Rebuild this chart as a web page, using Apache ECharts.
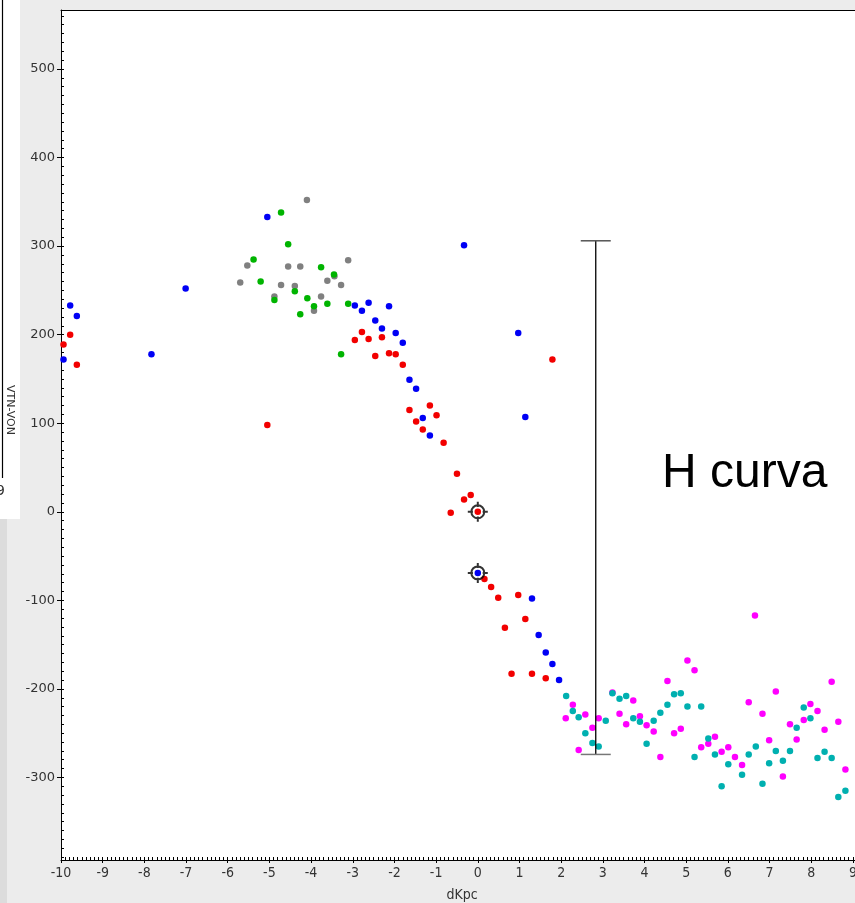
<!DOCTYPE html>
<html><head><meta charset="utf-8">
<script src="https://cdn.jsdelivr.net/npm/echarts@6/dist/echarts.min.js"></script>
<style>html,body{margin:0;padding:0;background:#ececec}#c{width:855px;height:903px}</style>
</head><body><div id="c"></div>
<script>
const xTicks = [-10,-9,-8,-7,-6,-5,-4,-3,-2,-1,0,1,2,3,4,5,6,7,8,9];
const yTicks = [-300,-200,-100,0,100,200,300,400,500];
const red = [[-9.78,200],[-9.94,189],[-9.62,166],[-5.05,98],
 [-2.78,203],[-2.95,194],[-2.62,195],[-2.30,197],[-2.46,176],[-2.13,179],[-1.97,178],[-1.80,166],
 [-1.64,115],[-1.15,120],[-0.99,109],[-1.48,102],[-1.32,93],[-0.82,78],[-0.50,43],[-0.17,19],[-0.33,14],[-0.65,-1],[0,0],
 [1.79,172],
 [0.16,-76],[0.32,-85],[0.49,-97],[0.97,-94],[1.14,-121],[0.65,-131],[0.81,-183],[1.30,-183],[1.63,-188]];
const blue = [[-9.78,233],[-9.62,221],[-9.94,172],[-7.83,178],[-7.01,252],[-5.05,333],
 [-2.95,233],[-2.62,236],[-2.78,227],[-2.13,232],[-2.46,216],[-2.30,207],[-1.97,202],[-1.80,191],[-1.64,149],[-1.48,139],[-1.32,106],[-1.15,86],
 [-0.33,301],[0.97,202],[1.14,107],
 [0,-69],[1.30,-98],[1.46,-139],[1.63,-159],[1.79,-172],[1.95,-190]];
const green = [[-4.72,338],[-4.55,302],[-5.38,285],[-3.76,276],[-5.21,260],[-3.45,268],[-4.39,249],[-4.88,239],[-4.09,241],[-3.93,232],[-3.61,235],[-4.26,223],[-3.11,235],[-3.28,178]];
const gray = [[-4.10,352],[-5.53,278],[-4.55,277],[-4.26,277],[-3.11,284],[-5.70,259],[-3.44,266],[-3.61,261],[-3.28,256],[-4.72,256],[-4.39,255],[-4.88,243],[-3.76,243],[-3.93,227]];
const magenta = [[2.11,-233],[2.28,-218],[2.42,-269],[2.58,-229],[2.75,-244],[2.90,-233],[3.23,-204],[3.40,-228],[3.56,-240],[3.73,-213],[3.89,-231],[4.05,-241],[4.22,-248],[4.38,-277],[4.55,-191],[4.71,-250],[4.87,-245],[5.03,-168],[5.20,-179],[5.36,-266],[5.53,-262],[5.69,-254],[5.85,-271],[6.01,-266],[6.17,-277],[6.34,-286],[6.50,-215],[6.65,-117],[6.83,-228],[6.99,-258],[7.15,-203],[7.32,-299],[7.49,-240],[7.65,-257],[7.82,-235],[7.98,-217],[8.15,-225],[8.32,-246],[8.49,-192],[8.65,-237],[8.82,-291]];
const cyan = [[2.12,-208],[2.28,-225],[2.42,-232],[2.58,-250],[2.75,-261],[2.90,-265],[3.07,-236],[3.23,-205],[3.40,-211],[3.56,-208],[3.73,-233],[3.89,-237],[4.05,-262],[4.22,-236],[4.38,-227],[4.55,-218],[4.71,-206],[4.87,-205],[5.03,-220],[5.36,-220],[5.20,-277],[5.53,-256],[5.69,-274],[5.85,-310],[6.01,-285],[6.34,-297],[6.50,-274],[6.67,-265],[6.83,-307],[6.99,-284],[7.15,-270],[7.32,-281],[7.49,-270],[7.65,-244],[7.82,-221],[7.98,-233],[8.15,-278],[8.32,-271],[8.49,-278],[8.65,-322],[8.82,-315]];
const crosshairs = [[0,0],[0,-69]];
const errorBar = [[2.83,-274,306]];

const minorX = []; for (let i=-100;i<=90;i++) minorX.push(i/10);
const minorY = []; for (let v=-390; v<=560; v+=10) minorY.push(v);

const X_MIN=-10, X_MAX=9.05, Y_MIN=-393.2, Y_MAX=566.6;
const chart = echarts.init(document.getElementById('c'), null, {renderer:'canvas'});
const lblFont = 'DejaVu Sans';
const condFont = 'DejaVu Sans Condensed, DejaVu Sans';
const xAxisBase = {type:'value', min:X_MIN, max:X_MAX, gridIndex:0, splitLine:{show:false}};
const yAxisBase = {type:'value', min:Y_MIN, max:Y_MAX, gridIndex:0, splitLine:{show:false}};
function dots(data,color,z){return {type:'scatter',data:data,symbolSize:6.5,itemStyle:{color:color,opacity:1},z:z,clip:true,silent:true};}
chart.setOption({
  animation:false,
  backgroundColor:'#ececec',
  grid:{left:61, top:10, right:0, height:850, outerBoundsMode:'none', containLabel:false, show:true, backgroundColor:'#ffffff', borderWidth:0},
  xAxis:[
    Object.assign({}, xAxisBase, {position:'bottom', axisLine:{show:true,onZero:false,lineStyle:{color:'#000',width:1}},
      axisTick:{show:true, inside:false, length:3, customValues:xTicks, lineStyle:{color:'#000'}},
      axisLabel:{show:true, customValues:xTicks, margin:6, color:'#333', fontSize:14, fontFamily:condFont}}),
    Object.assign({}, xAxisBase, {position:'bottom', axisLine:{show:false,onZero:false},
      axisTick:{show:true, inside:true, length:3, customValues:minorX, lineStyle:{color:'#000'}},
      axisLabel:{show:false}}),
    Object.assign({}, xAxisBase, {position:'top', axisLine:{show:true,onZero:false,lineStyle:{color:'#000',width:1}},
      axisTick:{show:false}, axisLabel:{show:false}})
  ],
  yAxis:[
    Object.assign({}, yAxisBase, {position:'left', axisLine:{show:true,onZero:false,lineStyle:{color:'#000',width:1}},
      axisTick:{show:true, inside:false, length:4, customValues:yTicks, lineStyle:{color:'#000'}},
      axisLabel:{show:true, customValues:yTicks, margin:6, color:'#333', fontSize:13, fontFamily:lblFont}}),
    Object.assign({}, yAxisBase, {position:'left', axisLine:{show:false,onZero:false},
      axisTick:{show:true, inside:true, length:3, customValues:minorY, lineStyle:{color:'#000'}},
      axisLabel:{show:false}})
  ],
  series:[
    dots(gray,'#808080',2),
    dots(green,'#00b400',3),
    dots(red,'#f20000',4),
    dots(blue,'#0000f5',5),
    dots(magenta,'#ff00ff',6),
    dots(cyan,'#00b0b0',7),
    {type:'custom', data:errorBar, z:8, silent:true, clip:false,
      renderItem:function(params, api){
        const top = api.coord([api.value(0), api.value(2)]);
        const bot = api.coord([api.value(0), api.value(1)]);
        const w = 15;
        return {type:'group', children:[
          {type:'line', shape:{x1:top[0],y1:top[1],x2:bot[0],y2:bot[1]}, style:{stroke:'#000',lineWidth:1.3}},
          {type:'line', shape:{x1:top[0]-w,y1:top[1],x2:top[0]+w,y2:top[1]}, style:{stroke:'#555',lineWidth:1.5}},
          {type:'line', shape:{x1:bot[0]-w,y1:bot[1],x2:bot[0]+w,y2:bot[1]}, style:{stroke:'#777',lineWidth:1.5}}
        ]};
      }},
    {type:'scatter', data:crosshairs, z:9, silent:true,
      symbol:'path://M-1,0A1,1,0,1,0,1,0A1,1,0,1,0,-1,0M0,-1.55L0,-0.75M0,0.75L0,1.55M-1.55,0L-0.75,0M0.75,0L1.55,0',
      symbolSize:20, symbolKeepAspect:true,
      itemStyle:{color:'rgba(0,0,0,0)', borderColor:'#000', borderWidth:2}}
  ],
  graphic:[
    {type:'rect', shape:{x:0,y:0,width:20,height:519}, style:{fill:'#ffffff'}, z:100},
    {type:'rect', shape:{x:0,y:519,width:7,height:384}, style:{fill:'#dcdcdc'}, z:100},
    {type:'line', shape:{x1:2.5,y1:0,x2:2.5,y2:478}, style:{stroke:'#000',lineWidth:1.2}, z:101},
    {type:'text', x:-4, y:484, style:{text:'9', fontSize:14, fill:'#333', fontFamily:lblFont}, z:101},
    {type:'text', x:10, y:410, rotation:-Math.PI/2, style:{text:'VTN-VON', fontSize:11, fill:'#333', fontFamily:lblFont, align:'center', verticalAlign:'middle'}, z:101},
    {type:'text', x:462, y:895, style:{text:'dKpc', fontSize:14, fill:'#333', fontFamily:condFont, align:'center', verticalAlign:'middle'}, z:101},
    {type:'text', x:662, y:474, style:{text:'H curva', fontSize:48, fill:'#000', fontFamily:'Liberation Sans, Arial', align:'left', verticalAlign:'middle'}, z:101}
  ]
});
</script></body></html>
